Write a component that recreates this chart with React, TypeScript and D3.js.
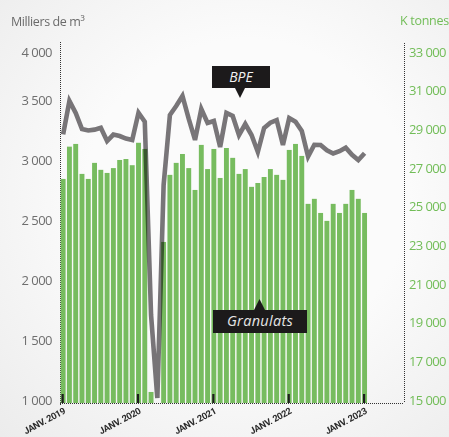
import React from 'react';
import * as d3 from 'd3';

const months = [
  '2019-01','2019-02','2019-03','2019-04','2019-05','2019-06','2019-07','2019-08','2019-09','2019-10','2019-11','2019-12',
  '2020-01','2020-02','2020-03','2020-04','2020-05','2020-06','2020-07','2020-08','2020-09','2020-10','2020-11','2020-12',
  '2021-01','2021-02','2021-03','2021-04','2021-05','2021-06','2021-07','2021-08','2021-09','2021-10','2021-11','2021-12',
  '2022-01','2022-02','2022-03','2022-04','2022-05','2022-06','2022-07','2022-08','2022-09','2022-10','2022-11','2022-12',
  '2023-01',
];

// Granulats, K tonnes (right axis)
const granulats = [
  26590, 28260, 28400, 26850, 26590, 27420, 27060, 26900, 27150, 27570, 27620, 27300,
  28460, 28140, 15570, 14800, 23330, 26800, 27420, 27880, 27150, 26020, 28350, 27100,
  28140, 26640, 28190, 27680, 26850, 27100, 26180, 26380, 26690, 27100, 26800, 26540,
  28090, 28400, 27780, 25300, 25560, 24830, 24420, 25300, 24830, 25300, 26020, 25560,
  24830,
];

// BPE, milliers de m3 (left axis)
const bpe = [
  3239, 3521, 3417, 3283, 3271, 3278, 3294, 3183, 3237, 3225, 3204, 3192,
  3419, 3344, 1733, 1042, 2817, 3400, 3475, 3573, 3367, 3192, 3450, 3333,
  3350, 3133, 3417, 3392, 3233, 3325, 3233, 3092, 3292, 3336, 3358, 3150,
  3375, 3344, 3267, 3053, 3152, 3150, 3106, 3079, 3098, 3128, 3068, 3025,
  3081,
];

const leftTicks = [1000, 1500, 2000, 2500, 3000, 3500, 4000];
const rightTicks = [15000, 17000, 19000, 21000, 23000, 25000, 27000, 29000, 31000, 33000];
const xTickMonths = ['2019-01', '2020-01', '2021-01', '2022-01', '2023-01'];
const xTickLabels = ['JANV. 2019', 'JANV. 2020', 'JANV. 2021', 'JANV. 2022', 'JANV. 2023'];

const W = 449;
const H = 437;
const BASE = 403;
const LEFT = 60;
const RIGHT = 404;

export default function App() {
  const x = d3
    .scaleBand<string>()
    .domain(months)
    .range([LEFT, LEFT + months.length * 6.28])
    .paddingInner(0.22)
    .paddingOuter(0.11);
  const yR = d3.scaleLinear().domain([15000, 33000]).range([BASE, 55]);
  const yL = d3.scaleLinear().domain([1000, 3500, 4000]).range([BASE, 103, 55]);
  const fmt = d3
    .formatLocale({ thousands: '\u00A0', grouping: [3], decimal: ',', currency: ['', ''] })
    .format(',');
  const bw = x.bandwidth();
  const cx = (m: string) => (x(m) as number) + bw / 2;

  const line = d3
    .line<number>()
    .x((_, i) => cx(months[i]))
    .y((d) => yL(d));

  const axisFont = "'Open Sans', 'Noto Sans', sans-serif";

  return (
    <svg
      width={W}
      height={H}
      style={{ position: 'absolute', left: 0, top: 0 }}
      xmlns="http://www.w3.org/2000/svg"
    >
      <defs>
        <radialGradient id="bg" cx="0.55" cy="0.45" r="0.8">
          <stop offset="0.45" stopColor="#fbfbfb" />
          <stop offset="1" stopColor="#ebebeb" />
        </radialGradient>
      </defs>
      <rect x={0} y={0} width={W} height={H} fill="url(#bg)" />

      {/* axis titles */}
      <text x={11} y={26} fill="#6b6b6b" fontFamily={axisFont} fontSize={12.5} letterSpacing={-0.4}>
        Milliers de m³
      </text>
      <text x={400} y={25} fill="#72bd58" fontFamily={axisFont} fontSize={12.5} letterSpacing={-0.3}>
        K tonnes
      </text>

      {/* dotted axes */}
      <line x1={LEFT + 0.5} x2={LEFT + 0.5} y1={42} y2={405} stroke="#333" strokeWidth={1} strokeDasharray="1 1" />
      <line x1={RIGHT + 0.5} x2={RIGHT + 0.5} y1={43} y2={BASE} stroke="#333" strokeWidth={1} strokeDasharray="1 1" />
      <line x1={LEFT} x2={RIGHT} y1={BASE + 0.5} y2={BASE + 0.5} stroke="#333" strokeWidth={1} strokeDasharray="1 1" />

      {/* left tick labels */}
      {leftTicks.map((t) => (
        <text
          key={'l' + t}
          x={52}
          y={yL(t)}
          dy={1.6}
          textAnchor="end"
          fill="#6e6e6e"
          fontFamily={axisFont}
          fontSize={13}
          letterSpacing={-0.5}
        >
          {fmt(t)}
        </text>
      ))}

      {/* right tick labels */}
      {rightTicks.map((t) => (
        <text
          key={'r' + t}
          x={409}
          y={yR(t)}
          dy={1.6}
          textAnchor="start"
          fill="#72bd58"
          fontFamily={axisFont}
          fontSize={13}
          letterSpacing={-0.6}
        >
          {fmt(t)}
        </text>
      ))}

      {/* bars */}
      {granulats.map((v, i) => {
        const y = yR(Math.max(v, 15000));
        return (
          <rect
            key={'b' + i}
            x={x(months[i])}
            y={y}
            width={bw}
            height={Math.max(0, BASE - y)}
            fill="#77bc5f"
          />
        );
      })}

      {/* january tick marks */}
      {xTickMonths.map((m) => (
        <rect key={'t' + m} x={cx(m) - 1.6} y={394} width={2.2} height={9} fill="#1d1d1d" />
      ))}

      {/* BPE line */}
      <path
        d={line(bpe) || ''}
        fill="none"
        stroke="#7a777a"
        strokeWidth={4.6}
        strokeLinejoin="miter"
        style={{ mixBlendMode: 'multiply' }}
      />

      {/* x tick labels */}
      {xTickMonths.map((m, i) => (
        <text
          key={'x' + m}
          transform={`translate(${cx(m) + 3},413) rotate(-28)`}
          textAnchor="end"
          fill="#2b2b2b"
          fontFamily="Roboto, sans-serif"
          fontWeight="bold"
          fontSize={9.2}
          letterSpacing={-0.3}
        >
          {xTickLabels[i]}
        </text>
      ))}

      {/* BPE annotation */}
      <g>
        <rect x={212} y={66} width={58} height={22} fill="#1c1a1b" />
        <path d="M235,88 L245,88 L240,98 Z" fill="#1c1a1b" />
        <text
          x={241}
          y={82}
          textAnchor="middle"
          fill="#f2f2f2"
          fontFamily="'Open Sans', sans-serif"
          fontStyle="italic"
          fontSize={14}
        >
          BPE
        </text>
      </g>

      {/* Granulats annotation */}
      <g>
        <rect x={213} y={310} width={94} height={23} fill="#1c1a1b" />
        <path d="M254,310 L265,310 L259.5,299 Z" fill="#1c1a1b" />
        <text
          x={260}
          y={326}
          textAnchor="middle"
          fill="#e6e6e6"
          fontFamily="'Open Sans', sans-serif"
          fontStyle="italic"
          fontSize={14.5}
          letterSpacing={0.3}
        >
          Granulats
        </text>
      </g>
    </svg>
  );
}
